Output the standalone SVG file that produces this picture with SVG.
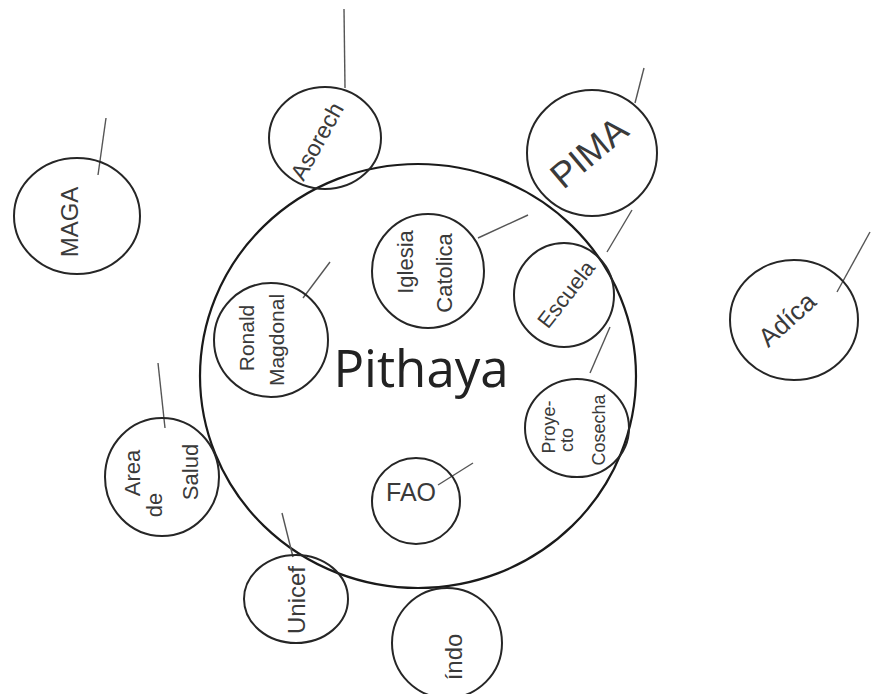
<svg xmlns="http://www.w3.org/2000/svg" width="873" height="694" viewBox="0 0 873 694">
<style>
.c{fill:none;stroke:#262626;stroke-width:2}
.big{fill:none;stroke:#1a1a1a;stroke-width:2.2}
.l{stroke:#555;stroke-width:1.4;fill:none}
.t{font-family:"Liberation Sans",Arial,sans-serif;fill:#3a3a3a;text-anchor:middle}
.title{font-family:"Open Sans","Noto Sans",sans-serif;font-size:51px;fill:#222;text-anchor:middle}
</style>
<rect width="873" height="694" fill="#fff"/>
<g id="pithaya">
<ellipse class="big" cx="418" cy="376" rx="218" ry="212"/>
<text class="title" x="421" y="387">Pithaya</text>
</g>
<g id="connectors">
<line class="l" x1="98" y1="175" x2="106" y2="118"/>
<line class="l" x1="345" y1="88" x2="344" y2="9"/>
<line class="l" x1="635" y1="103" x2="644" y2="68"/>
<line class="l" x1="478" y1="238" x2="528" y2="215"/>
<line class="l" x1="607" y1="252" x2="632" y2="210"/>
<line class="l" x1="303" y1="298" x2="330" y2="262"/>
<line class="l" x1="837" y1="292" x2="870" y2="232"/>
<line class="l" x1="165" y1="428" x2="158" y2="363"/>
<line class="l" x1="590" y1="373" x2="610" y2="327"/>
<line class="l" x1="438" y1="485" x2="473" y2="463"/>
<line class="l" x1="282" y1="513" x2="293" y2="557"/>
</g>
<g id="maga">
<ellipse class="c" cx="77" cy="216" rx="63" ry="58"/>
<text class="t" font-size="24" transform="translate(78,222) rotate(-90)">MAGA</text>
</g>
<g id="asorech">
<ellipse class="c" cx="325" cy="138" rx="56" ry="51"/>
<text class="t" font-size="23" transform="translate(324,145) rotate(-61)">Asorech</text>
</g>
<g id="pima">
<ellipse class="c" cx="592" cy="153" rx="65" ry="63"/>
<text class="t" font-size="36" transform="translate(597,162) rotate(-40)">PIMA</text>
</g>
<g id="iglesia">
<ellipse class="c" cx="428" cy="271" rx="56" ry="57"/>
<text class="t" font-size="22" transform="translate(413,262) rotate(-90)">Iglesia</text>
<text class="t" font-size="22" transform="translate(452,273) rotate(-90)">Catolica</text>
</g>
<g id="escuela">
<ellipse class="c" cx="564" cy="295" rx="50" ry="52"/>
<text class="t" font-size="22" transform="translate(572,299) rotate(-52)">Escuela</text>
</g>
<g id="ronald">
<ellipse class="c" cx="271" cy="340" rx="57" ry="57"/>
<text class="t" font-size="21" transform="translate(254,338) rotate(-90)">Ronald</text>
<text class="t" font-size="21" transform="translate(284,340) rotate(-90)">Magdonal</text>
</g>
<g id="adica">
<ellipse class="c" cx="794" cy="320" rx="64" ry="60"/>
<text class="t" font-size="26" transform="translate(793,326) rotate(-42)">Adíca</text>
</g>
<g id="area-salud">
<ellipse class="c" cx="162" cy="477" rx="57" ry="59"/>
<text class="t" font-size="22" transform="translate(140,473) rotate(-90)">Area</text>
<text class="t" font-size="22" transform="translate(162,505) rotate(-90)">de</text>
<text class="t" font-size="22" transform="translate(198,472) rotate(-90)">Salud</text>
</g>
<g id="proyecto-cosecha">
<ellipse class="c" cx="577" cy="428" rx="52" ry="49"/>
<text class="t" font-size="18" transform="translate(555,427) rotate(-90)">Proye-</text>
<text class="t" font-size="18" transform="translate(573,440) rotate(-90)">cto</text>
<text class="t" font-size="18" transform="translate(605,430) rotate(-90)">Cosecha</text>
</g>
<g id="fao">
<ellipse class="c" cx="416" cy="501" rx="44" ry="43"/>
<text class="t" font-size="25" x="411" y="501">FAO</text>
</g>
<g id="unicef">
<ellipse class="c" cx="296" cy="599" rx="52" ry="44"/>
<text class="t" font-size="24" transform="translate(305,600) rotate(-90)">Unicef</text>
</g>
<g id="indo">
<ellipse class="c" cx="447" cy="643" rx="55" ry="55"/>
<text class="t" font-size="24" transform="translate(462,657) rotate(-90)">índo</text>
</g>
</svg>
